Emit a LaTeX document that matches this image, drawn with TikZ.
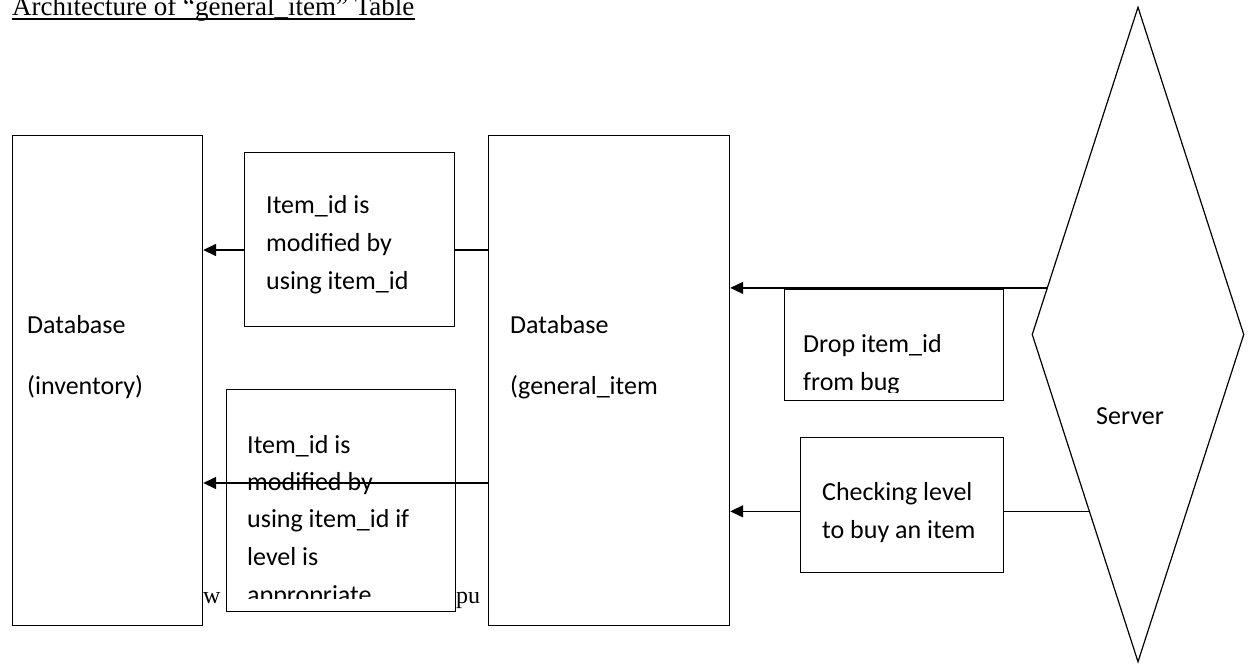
\documentclass[tikz,border=0pt]{standalone}
\usepackage{fontspec}
\setmainfont{Liberation Serif}
\newfontfamily\calfont{Carlito}
\usetikzlibrary{shapes.geometric,arrows.meta,calc}
\begin{document}
\begin{tikzpicture}[x=1pt,y=-1pt,
  box/.style={draw, line width=1.2pt, fill=white, inner sep=0pt, anchor=north west},
  lbl/.style={font=\calfont\fontsize{26}{31}\selectfont, anchor=base west, inner sep=0pt},
  ser/.style={font=\fontsize{27}{32}\selectfont, anchor=base west, inner sep=0pt},
  arr/.style={-{Triangle[length=13pt,width=12pt]}, line width=1.5pt},
  conn/.style={line width=1.5pt}]
\useasboundingbox[fill=white] (0,0) rectangle (1248,664);

% title and background fragments
\node[ser] (title) at (12,15) {Architecture of “general\_item” Table};
\draw[line width=1.2pt] ([yshift=-4pt]title.base west) -- ([yshift=-4pt]title.base east);
\node[ser, font=\fontsize{24}{28}\selectfont] (fw) at (203,603) {w};
\node[ser, font=\fontsize{24}{28}\selectfont] (fpu) at (456,603) {pu};

% large boxes
\node[box, minimum width=190pt, minimum height=490pt] (inventory) at (12,135) {};
\node[lbl] (inv1) at (27,333) {Database};
\node[lbl] (inv2) at (27,394) {(inventory)};
\node[box, minimum width=241pt, minimum height=490pt] (general) at (488,135) {};
\node[lbl] (gen1) at (510,333) {Database};
\node[lbl] (gen2) at (510,394) {(general\_item};

% top-left connector and box
\coordinate (yA) at (0,250);
\draw[arr] (general.west |- yA) -- (inventory.east |- yA);
\node[box, minimum width=210pt, minimum height=174pt] (topmid) at (244,152) {};
\node[lbl] (tm1) at (266,213) {Item\_id is};
\node[lbl] (tm2) at (266,251) {modified by};
\node[lbl] (tm3) at (266,289) {using item\_id};

% bottom-left box and connector
\node[box, minimum width=229pt, minimum height=222pt] (botmid) at (226,389) {};
\begin{scope}
  \clip (botmid.north west) rectangle (455,598);
  \node[lbl] (bm1) at (247,453) {Item\_id is};
  \node[lbl] (bm2) at (247,490) {modified by};
  \node[lbl] (bm3) at (247,527) {using item\_id if};
  \node[lbl] (bm4) at (247,565) {level is};
  \node[lbl] (bm5) at (247,603) {appropriate};
\end{scope}
\coordinate (yB) at (0,483);
\draw[arr] (general.west |- yB) -- (inventory.east |- yB);

% server
\node[draw, diamond, line width=1.2pt, inner sep=0pt, minimum width=212pt, minimum height=655pt] (server) at (1138,334.5) {};
\node[lbl] (sertext) at (1096,424) {Server};

% drop box and connector
\node[box, minimum width=219pt, minimum height=111pt] (drop) at (784,289) {};
\begin{scope}
  \clip (drop.north west) rectangle (1003,392);
  \node[lbl] (dr1) at (803,352) {Drop item\_id};
  \node[lbl] (dr2) at (803,390) {from bug};
\end{scope}
\coordinate (sA) at ($(server.west)!0.142!(server.north)$);
\draw[arr] (sA) -- (general.east |- sA);

% checking connector and box
\coordinate (sB) at ($(server.west)!0.539!(server.south)$);
\draw[arr] (sB) -- (general.east |- sB);
\node[box, minimum width=203pt, minimum height=135pt] (check) at (800,437) {};
\node[lbl] (ch1) at (822,500) {Checking level};
\node[lbl] (ch2) at (822,538) {to buy an item};
\end{tikzpicture}
\end{document}
